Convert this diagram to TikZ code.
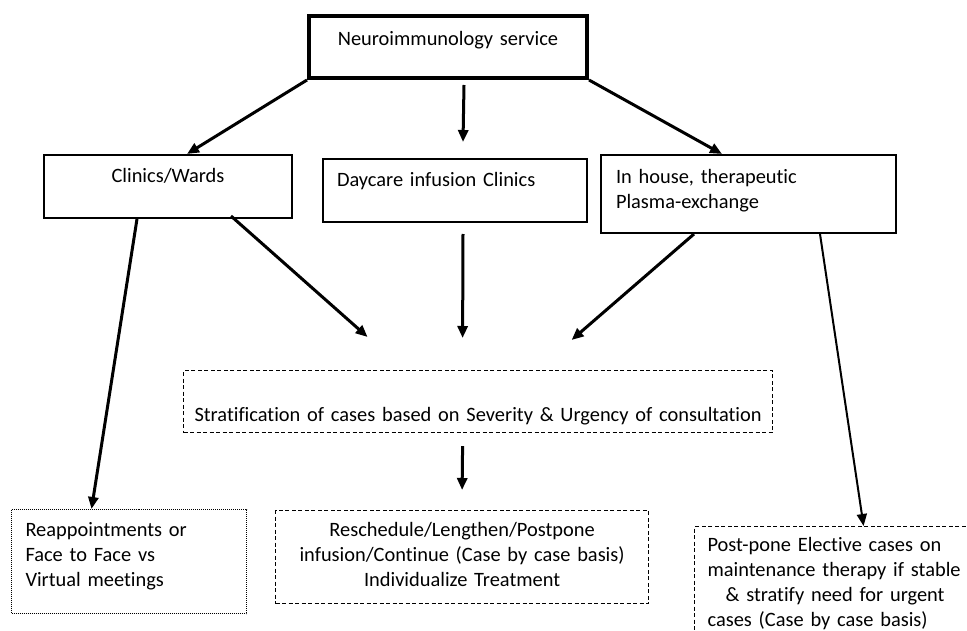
\documentclass[tikz,border=0pt]{standalone}
\usepackage{fontspec}
\setmainfont{Carlito}[Ligatures=NoCommon]
\usetikzlibrary{arrows.meta,positioning}

\begin{document}
\begin{tikzpicture}[x=1pt,y=-1pt,
    box/.style={draw, line width=2pt, anchor=north west, inner ysep=0pt,
                font=\fontsize{20.4}{25}\selectfont},
    headbox/.style={box, line width=4pt},
    dashbox/.style={box, line width=1.2pt, dash pattern=on 4pt off 2.5pt},
    dotbox/.style={box, line width=1pt, dash pattern=on 1pt off 1pt},
    arrow/.style={-{Triangle[length=12pt,width=10pt]}, line width=3pt},
    thinarrow/.style={arrow, line width=2pt},
  ]
    \useasboundingbox (0,0) rectangle (967,631);
    \clip (0,0) rectangle (967,631);
    % first row
    \node[headbox, text width=258pt, inner xsep=10pt, align=center,
          text height=30pt, text depth=32pt] (svc) at (307,14) {Neuroimmunology service};
    \node[box, text width=228pt, inner xsep=10pt, align=center,
          text height=28pt, text depth=35pt] (cw) at (43,154) {Clinics/Wards};
    \node[box, text width=236pt, inner xsep=14pt, align=left,
          text height=28pt, text depth=35pt] (dc) at (322,158) {Daycare infusion Clinics};
    \node[box, text width=265pt, inner xsep=15pt, align=left,
          text height=29pt, text depth=49pt] (ih) at (600,154) {In house, therapeutic\\Plasma-exchange};
    % stratification
    \node[dashbox, text width=569pt, inner xsep=10pt, align=center,
          text height=51pt, text depth=11pt] (strat) at (183,370)
          {Stratification of cases based on Severity \& Urgency of consultation};
    % outcomes
    \node[dotbox, text width=207pt, inner xsep=14pt, align=left,
          text height=27pt, text depth=77pt] (reap) at (11,509)
          {Reappointments or\\Face to Face vs\\Virtual meetings};
    \node[dashbox, text width=353pt, inner xsep=10pt, align=center,
          text height=26pt, text depth=67pt] (resch) at (275,510)
          {Reschedule/Lengthen/Postpone\\infusion/Continue (Case by case basis)\\Individualize Treatment};
    \node[dashbox, text width=270pt, inner xsep=13pt, align=left,
          text height=25pt, text depth=109pt] (post) at (694,526)
          {Post-pone Elective cases on\\maintenance therapy if stable\\\hspace*{18pt}\& stratify need for urgent\\cases (Case by case basis)};
    % connectors
    \draw[arrow] (svc.south west) -- ([xshift=19pt]cw.north);
    \draw[arrow] ([xshift=16pt,yshift=-5pt]svc.south) -- ([xshift=8pt,yshift=16pt]dc.north);
    \draw[arrow] (svc.south east) -- ([xshift=-26.5pt]ih.north);
    \draw[arrow] ([xshift=63pt,yshift=3pt]cw.south) -- ([xshift=-110.5pt,yshift=33pt]strat.north);
    \draw[arrow] ([xshift=8pt,yshift=-11pt]dc.south) -- ([xshift=-15.5pt,yshift=32pt]strat.north);
    \draw[arrow] ([xshift=-54.5pt]ih.south) -- ([xshift=93.5pt,yshift=30pt]strat.north);
    \draw[arrow] ([xshift=-31pt]cw.south) -- ([xshift=-37.5pt]reap.north);
    \draw[thinarrow] ([xshift=71.5pt]ih.south) -- ([xshift=21pt]post.north);
    \draw[arrow] ([xshift=-15.5pt,yshift=-13pt]strat.south) -- ([yshift=20pt]resch.north);
\end{tikzpicture}
\end{document}
